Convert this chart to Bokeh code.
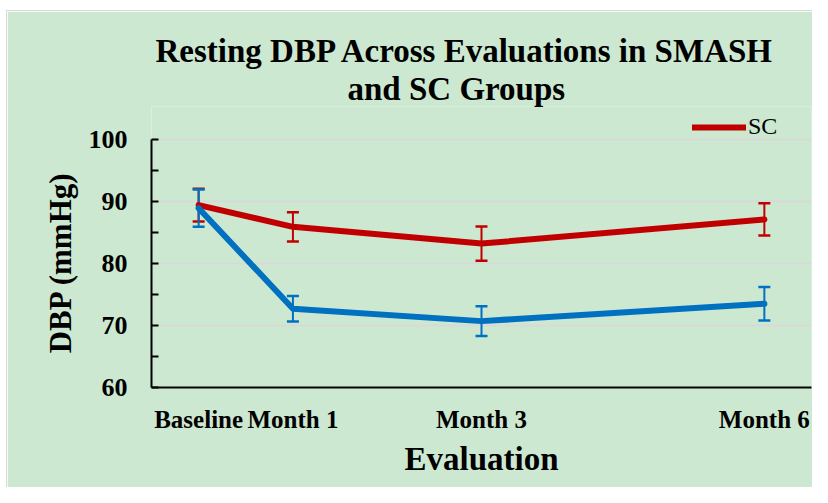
from bokeh.plotting import figure
from bokeh.models import (Range1d, FixedTicker, Whisker, TeeHead, ColumnDataSource,
                          Legend, LegendItem, Title, Spacer)
from bokeh.layouts import column, row
from bokeh.embed import file_html
from bokeh.resources import INLINE

# ---- data ----
x_labels = ["Baseline", "Month 1", "Month 3", "Month 6"]
months = [0, 1, 3, 6]
sc_mean = [89.4, 85.9, 83.2, 87.1]
sc_err = [2.65, 2.35, 2.75, 2.6]
smash_mean = [88.9, 72.7, 70.7, 73.5]
smash_err = [3.0, 2.05, 2.4, 2.7]
y_ticks = [60, 70, 80, 90, 100]
y_minor = [65, 75, 85, 95]

BG = "#CDE8D0"
RED = "#C00000"
BLUE = "#0070C0"
FONT = "Liberation Serif"
NB = "\u00a0"

# the frame extends a little above 100 so the legend has room; the axis stops at 100
p = figure(width=806, height=477, output_backend="svg", toolbar_location=None, title=None,
           x_range=Range1d(-0.5, 6.5), y_range=Range1d(60, 105.3),
           min_border_left=144, min_border_right=2, min_border_top=95, min_border_bottom=101,
           background_fill_color=BG, border_fill_color=BG,
           outline_line_color=None)

src_sc = ColumnDataSource(dict(x=months, y=sc_mean,
                               upper=[m + e for m, e in zip(sc_mean, sc_err)],
                               lower=[m - e for m, e in zip(sc_mean, sc_err)]))
src_sm = ColumnDataSource(dict(x=months, y=smash_mean,
                               upper=[m + e for m, e in zip(smash_mean, smash_err)],
                               lower=[m - e for m, e in zip(smash_mean, smash_err)]))

r_sc = p.line("x", "y", source=src_sc, line_color=RED, line_width=6,
              line_join="round", line_cap="round")
r_sm = p.line("x", "y", source=src_sm, line_color=BLUE, line_width=6,
              line_join="round", line_cap="round")

for src, c in ((src_sc, RED), (src_sm, BLUE)):
    w = Whisker(source=src, base="x", upper="upper", lower="lower", dimension="height",
                line_color=c, line_width=2,
                upper_head=TeeHead(size=12, line_color=c, line_width=2.5),
                lower_head=TeeHead(size=12, line_color=c, line_width=2.5))
    p.add_layout(w)

legend = Legend(items=[LegendItem(label="SC", renderers=[r_sc])], location=(541, 247),
                background_fill_alpha=0, border_line_color=None, padding=0, margin=0,
                glyph_width=54, glyph_height=20, label_height=20,
                label_standoff=2,
                label_text_font=FONT, label_text_font_size="24px", label_text_color="black")
p.add_layout(legend)

# titles (line 2 first: closest to frame)
t2 = Title(text="and SC Groups", align="left", offset=196, standoff=0,
           text_font=FONT, text_font_size="33px", text_font_style="bold", text_color="black")
t1 = Title(text="Resting DBP Across Evaluations in SMASH", align="left", offset=4, standoff=0,
           text_font=FONT, text_font_size="33px", text_font_style="bold", text_color="black")
p.add_layout(t2, "above")
p.add_layout(t1, "above")

xa = p.xaxis[0]
xa.ticker = FixedTicker(ticks=months)
xa.major_label_overrides = {m: l for m, l in zip(months, x_labels)}
xa.major_tick_in = 0
xa.major_tick_out = 0
xa.minor_tick_in = 0
xa.minor_tick_out = 0
xa.axis_line_color = "black"
xa.axis_line_width = 2
xa.major_label_text_font = FONT
xa.major_label_text_font_size = "25px"
xa.major_label_text_font_style = "bold"
xa.major_label_text_color = "black"
xa.major_label_standoff = 18
xa.axis_label = "Evaluation"
xa.axis_label_text_font = FONT
xa.axis_label_text_font_size = "33px"
xa.axis_label_text_font_style = "bold"
xa.axis_label_text_color = "black"
xa.axis_label_standoff = 5

ya = p.yaxis[0]
ya.bounds = (60, 100)
ya.ticker = FixedTicker(ticks=y_ticks, minor_ticks=y_minor)
ya.major_tick_in = 7
ya.major_tick_out = 0
ya.minor_tick_in = 7
ya.minor_tick_out = 0
ya.major_tick_line_width = 2
ya.minor_tick_line_width = 2
ya.major_tick_line_color = "black"
ya.minor_tick_line_color = "black"
ya.axis_line_color = "black"
ya.axis_line_width = 2
ya.major_label_text_font = FONT
ya.major_label_text_font_size = "26px"
ya.major_label_text_font_style = "bold"
ya.major_label_text_color = "black"
ya.major_label_standoff = 24
# trailing no-break spaces keep the label centred on the 60-100 axis, not on the taller frame
ya.axis_label = "DBP (mmHg)" + NB * 4
ya.axis_label_text_font = FONT
ya.axis_label_text_font_size = "31px"
ya.axis_label_text_font_style = "bold"
ya.axis_label_text_color = "black"
ya.axis_label_standoff = 8

p.xgrid.visible = False
p.ygrid.ticker = FixedTicker(ticks=y_ticks)
p.ygrid.grid_line_color = "#D9D9D9"
p.ygrid.grid_line_width = 2

p.styles = {"border-top": "1px solid #D9D9D9", "border-left": "1px solid #D9D9D9"}

layout = column(Spacer(width=812, height=10),
                row(Spacer(width=6, height=477), p))
open("out.html", "w").write(file_html(layout, INLINE))
